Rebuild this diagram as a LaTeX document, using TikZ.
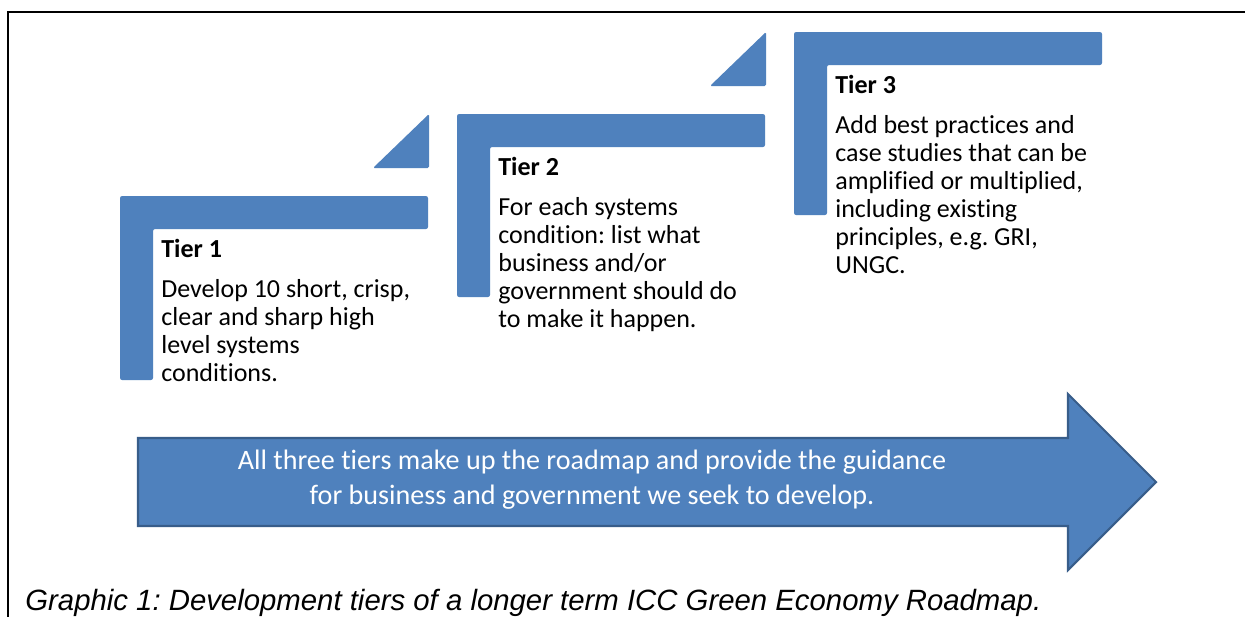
\documentclass[tikz,border=0pt]{standalone}
\usepackage{fontspec}
\setmainfont{Carlito}[Ligatures=NoCommon]
\newfontfamily\captionfont{Liberation Sans}
\usepackage{tikz}
\usetikzlibrary{positioning}
\frenchspacing
\definecolor{tierblue}{HTML}{4F81BD}
\definecolor{tieredge}{HTML}{385D8A}
\tikzset{lbar/.style={fill=tierblue, rounded corners=1.2pt}, wedge/.style={fill=tierblue, rounded corners=0.8pt}, tiertext/.style={anchor=north west, align=left, inner sep=0pt, font=\fontsize{14.8}{16}\selectfont}, roadarrow/.style={fill=tierblue, draw=tieredge, line width=1.2pt}, roadtext/.style={align=center, inner sep=0pt, text=white, font=\fontsize{16}{19.8}\selectfont}}

\begin{document}
\begin{tikzpicture}[x=0.02cm, y=-0.02cm]
\useasboundingbox (0,0) rectangle (1245,616);
\fill[white] (0,0) rectangle (1245,616);
\draw[line width=1.2pt] (8,640) -- (8,12) -- (1260,12);
% steps
\path[lbar] (120,196) -- (428,196) -- (428,229) -- (153,229) -- (153,380) -- (120,380) -- cycle;
\path[lbar] (457,114) -- (765,114) -- (765,147) -- (490,147) -- (490,297) -- (457,297) -- cycle;
\path[lbar] (794,32) -- (1102,32) -- (1102,65) -- (827,65) -- (827,215) -- (794,215) -- cycle;
\path[wedge] (373,168) -- (429,168) -- (429,114) -- cycle;
\path[wedge] (710,86) -- (766,86) -- (766,32) -- cycle;
% tier texts
\node[tiertext] (tier1) at (161,239) {\textbf{Tier 1}\\[6.5pt]Develop 10 short, crisp,\\clear and sharp high\\level systems\\conditions.};
\node[tiertext] (tier2) at (498,157) {\textbf{Tier 2}\\[6.5pt]For each systems\\condition: list what\\business and/or\\government should do\\to make it happen.};
\node[tiertext] (tier3) at (835,75) {\textbf{Tier 3}\\[6.5pt]Add best practices and\\case studies that can be\\amplified or multiplied,\\including existing\\principles, e.g. GRI,\\UNGC.};
% roadmap arrow
\path[roadarrow] (138,438) -- (1068,438) -- (1068,394) -- (1156,482) -- (1068,570) -- (1068,526) -- (138,526) -- cycle;
\node[roadtext] (road) at (592,480) {All three tiers make up the roadmap and provide the guidance\\for business and government we seek to develop.};
\node[anchor=base west, inner sep=0pt, font=\captionfont\itshape\fontsize{16.7}{20}\selectfont] (caption) at (25,610) {Graphic 1: Development tiers of a longer term ICC Green Economy Roadmap.};
\end{tikzpicture}
\end{document}
